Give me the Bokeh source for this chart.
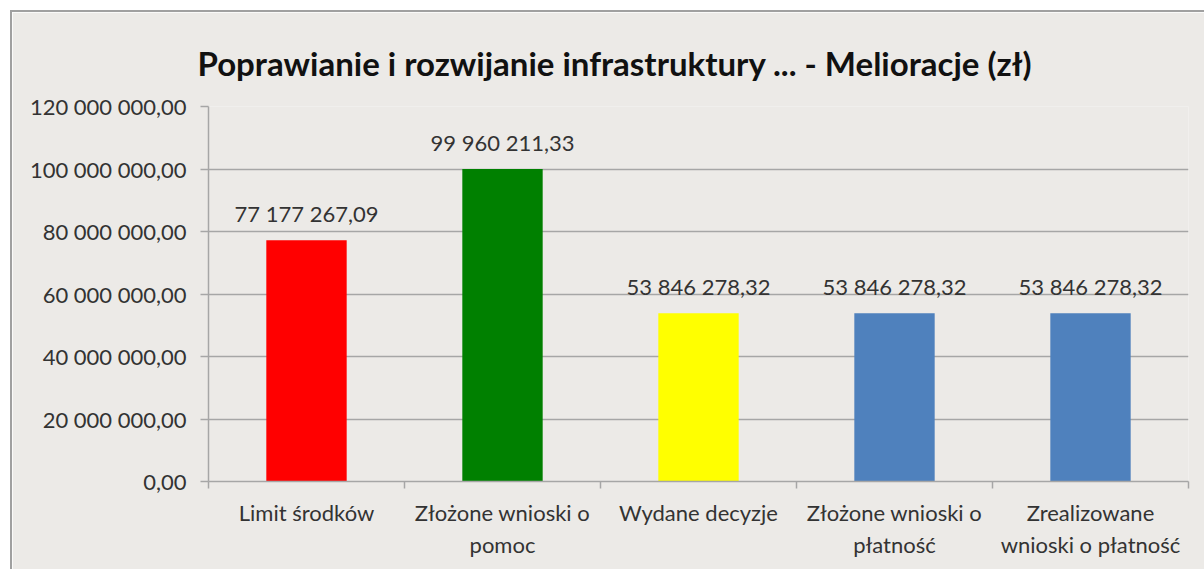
from bokeh.plotting import figure
from bokeh.models import ColumnDataSource, FixedTicker, Range1d
from bokeh.core.properties import value
from bokeh.embed import file_html
from bokeh.resources import INLINE

categories = ["Limit środków", "Złożone wnioski o\npomoc", "Wydane decyzje",
              "Złożone wnioski o\npłatność", "Zrealizowane\nwnioski o płatność"]
values = [77177267.09, 99960211.33, 53846278.32, 53846278.32, 53846278.32]
colors = ["#FF0000", "#008000", "#FFFF00", "#4F81BD", "#4F81BD"]
y_ticks = [0, 20000000, 40000000, 60000000, 80000000, 100000000, 120000000]
title_text = "Poprawianie i rozwijanie infrastruktury ... - Melioracje (zł)"


def pl(v):
    return f"{v:,.2f}".replace(",", " ").replace(".", ",")


xs = [i + 0.5 for i in range(len(categories))]
src = ColumnDataSource(dict(x=xs, top=values, color=colors,
                            label=[pl(v) for v in values]))

FONT = "Lato"
BG = "#ECEAE7"
GRID = "#A6A6A6"

p = figure(width=1194, height=559, output_backend="svg", toolbar_location=None,
           x_range=Range1d(0, len(categories)), y_range=Range1d(0, 120000000),
           title=title_text, min_border_left=196, min_border_right=18,
           min_border_top=94, min_border_bottom=90)
p.background_fill_color = BG
p.border_fill_color = BG
p.outline_line_color = None

p.title.text_font = FONT
p.title.text_font_style = "bold"
p.title.text_font_size = "33px"
p.title.text_color = "#111111"
p.title.align = "left"
p.title.offset = -11
p.title.standoff = 48

p.vbar(x="x", top="top", width=0.41, fill_color="color", line_color=None, source=src)
p.text(x="x", y="top", text="label", source=src, text_align="center",
       text_baseline="bottom", y_offset=-13, text_font=value(FONT),
       text_font_size="22px", text_color="#333333")

# y axis
p.yaxis.ticker = FixedTicker(ticks=y_ticks)
p.yaxis.major_label_overrides = {t: pl(t) for t in y_ticks}
p.yaxis.major_label_text_font = FONT
p.yaxis.major_label_text_font_size = "22px"
p.yaxis.major_label_text_color = "#333333"
p.yaxis.major_label_standoff = 14
p.yaxis.axis_line_color = GRID
p.yaxis.axis_line_width = 1.5
p.yaxis.major_tick_line_color = GRID
p.yaxis.major_tick_line_width = 1.5
p.yaxis.major_tick_out = 8
p.yaxis.major_tick_in = 0
p.yaxis.minor_tick_line_color = None

# x axis: labels at centres, ticks at boundaries
p.xaxis.ticker = FixedTicker(ticks=xs, minor_ticks=list(range(len(categories) + 1)))
p.xaxis.major_label_overrides = {x: c for x, c in zip(xs, categories)}
p.xaxis.major_label_text_font = FONT
p.xaxis.major_label_text_font_size = "22px"
p.xaxis.major_label_text_color = "#333333"
p.xaxis.major_label_standoff = 10
p.xaxis.major_tick_line_color = None
p.xaxis.minor_tick_line_color = GRID
p.xaxis.minor_tick_line_width = 1.5
p.xaxis.minor_tick_out = 7
p.xaxis.minor_tick_in = 0
p.xaxis.axis_line_color = GRID
p.xaxis.axis_line_width = 1.5

p.xgrid.grid_line_color = None
p.ygrid.grid_line_color = GRID
p.ygrid.grid_line_width = 1.5

p.styles = {"margin-left": "10px", "margin-top": "10px",
            "border-left": "2px solid #A0A0A0", "border-top": "2px solid #A0A0A0"}

open("out.html", "w").write(file_html(p, INLINE))
